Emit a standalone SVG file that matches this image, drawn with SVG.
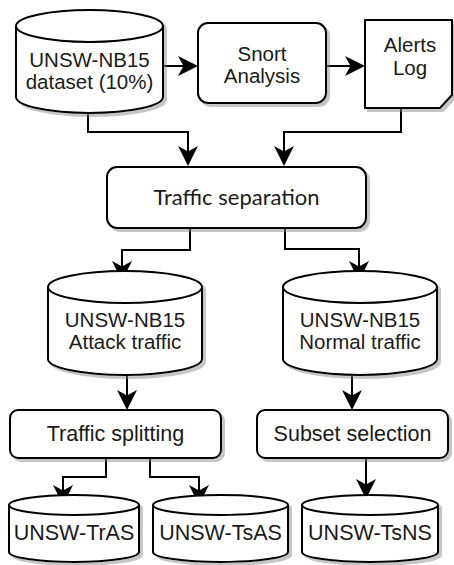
<svg xmlns="http://www.w3.org/2000/svg" width="454" height="565" viewBox="0 0 454 565">
  <defs>
    <filter id="shadow" x="-10%" y="-10%" width="130%" height="130%">
      <feDropShadow dx="3" dy="3" stdDeviation="0.6" flood-color="#808080" flood-opacity="0.45"/>
    </filter>
    <marker id="arrow" markerUnits="userSpaceOnUse" viewBox="0 0 20 20" markerWidth="20" markerHeight="20" refX="9" refY="10" orient="auto">
      <path d="M0,0 L20,10 L0,20 L5.5,10 Z" fill="#000"/>
    </marker>
  </defs>
  <style>
    .shape { fill: #fff; stroke: #000; stroke-width: 2; }
    .line { fill: none; stroke: #000; stroke-width: 2; }
    .edge { fill: none; stroke: #000; stroke-width: 2; marker-end: url(#arrow); }
    .lbl { font-family: "Liberation Sans", Arial, sans-serif; font-size: 21.5px; fill: #1a1a1a; text-anchor: middle; }
    .two { font-size: 20.5px; }
    .lbl2 { font-family: "Lato", "Open Sans", sans-serif; font-size: 22px; fill: #1a1a1a; text-anchor: middle; }
  </style>

  <!-- connectors -->
  <g id="connectors">
    <path class="edge" d="M163,66 L187,66"/>
    <path class="edge" d="M326,66 L354,66"/>
    <path class="edge" d="M88,113 L88,132 L188,132 L188,155"/>
    <path class="edge" d="M401,108 L401,132 L284,132 L284,155"/>
    <path class="edge" d="M190,228 L190,250 L122,250 L122,270"/>
    <path class="edge" d="M285,228 L285,249 L359,249 L359,270"/>
    <path class="edge" d="M127,375 L127,399"/>
    <path class="edge" d="M352,375 L352,399"/>
    <path class="edge" d="M106,458 L106,477 L63,477 L63,494"/>
    <path class="edge" d="M150,458 L150,477 L199,477 L199,494"/>
    <path class="edge" d="M366,458 L366,488"/>
  </g>

  <!-- UNSW-NB15 dataset (10%) -->
  <g id="dataset">
    <path class="shape" filter="url(#shadow)" d="M16,26 A73.5,16 0 0 1 163,26 L163,97 A73.5,16 0 0 1 16,97 Z"/>
    <path class="line" d="M16,26 A73.5,16 0 0 0 163,26"/>
    <text class="lbl two" x="89.5" y="67">UNSW-NB15</text>
    <text class="lbl two" x="89.5" y="89">dataset (10%)</text>
  </g>

  <!-- Snort Analysis -->
  <g id="snort">
    <rect class="shape" filter="url(#shadow)" x="198" y="23" width="128" height="80" rx="10" ry="10"/>
    <text class="lbl two" x="262" y="61">Snort</text>
    <text class="lbl two" x="262" y="83">Analysis</text>
  </g>

  <!-- Alerts Log -->
  <g id="alerts">
    <path class="shape" filter="url(#shadow)" d="M365,20 L452,20 L452,95 L440,108 L365,108 Z"/>
    <text class="lbl two" x="410" y="52">Alerts</text>
    <text class="lbl two" x="410" y="75">Log</text>
  </g>

  <!-- Traffic separation -->
  <g id="separation">
    <rect class="shape" filter="url(#shadow)" x="107" y="167" width="259" height="61" rx="10" ry="10"/>
    <text class="lbl2" x="236.5" y="205">Traffic separation</text>
  </g>

  <!-- Attack traffic -->
  <g id="attack">
    <path class="shape" filter="url(#shadow)" d="M48,287 A77,16 0 0 1 202,287 L202,359 A77,16 0 0 1 48,359 Z"/>
    <path class="line" d="M48,287 A77,16 0 0 0 202,287"/>
    <text class="lbl two" x="125" y="327">UNSW-NB15</text>
    <text class="lbl two" x="125" y="349">Attack traffic</text>
  </g>

  <!-- Normal traffic -->
  <g id="normal">
    <path class="shape" filter="url(#shadow)" d="M283,287 A77,16 0 0 1 437,287 L437,359 A77,16 0 0 1 283,359 Z"/>
    <path class="line" d="M283,287 A77,16 0 0 0 437,287"/>
    <text class="lbl two" x="360" y="327">UNSW-NB15</text>
    <text class="lbl two" x="360" y="349">Normal traffic</text>
  </g>

  <!-- Traffic splitting -->
  <g id="splitting">
    <rect class="shape" filter="url(#shadow)" x="10" y="410" width="211" height="48" rx="8" ry="8"/>
    <text class="lbl" x="115.5" y="441">Traffic splitting</text>
  </g>

  <!-- Subset selection -->
  <g id="subset">
    <rect class="shape" filter="url(#shadow)" x="257" y="410" width="191" height="48" rx="8" ry="8"/>
    <text class="lbl" x="352.5" y="441">Subset selection</text>
  </g>

  <!-- UNSW-TrAS -->
  <g id="tras">
    <path class="shape" filter="url(#shadow)" d="M9,505 A65,10 0 0 1 139,505 L139,552 A65,10 0 0 1 9,552 Z"/>
    <path class="line" d="M9,505 A65,10 0 0 0 139,505"/>
    <text class="lbl" x="74" y="540">UNSW-TrAS</text>
  </g>

  <!-- UNSW-TsAS -->
  <g id="tsas">
    <path class="shape" filter="url(#shadow)" d="M153,505 A67.5,10 0 0 1 288,505 L288,552 A67.5,10 0 0 1 153,552 Z"/>
    <path class="line" d="M153,505 A67.5,10 0 0 0 288,505"/>
    <text class="lbl" x="220.5" y="540">UNSW-TsAS</text>
  </g>

  <!-- UNSW-TsNS -->
  <g id="tsns">
    <path class="shape" filter="url(#shadow)" d="M302,505 A68,10 0 0 1 438,505 L438,552 A68,10 0 0 1 302,552 Z"/>
    <path class="line" d="M302,505 A68,10 0 0 0 438,505"/>
    <text class="lbl" x="370" y="540">UNSW-TsNS</text>
  </g>
</svg>
